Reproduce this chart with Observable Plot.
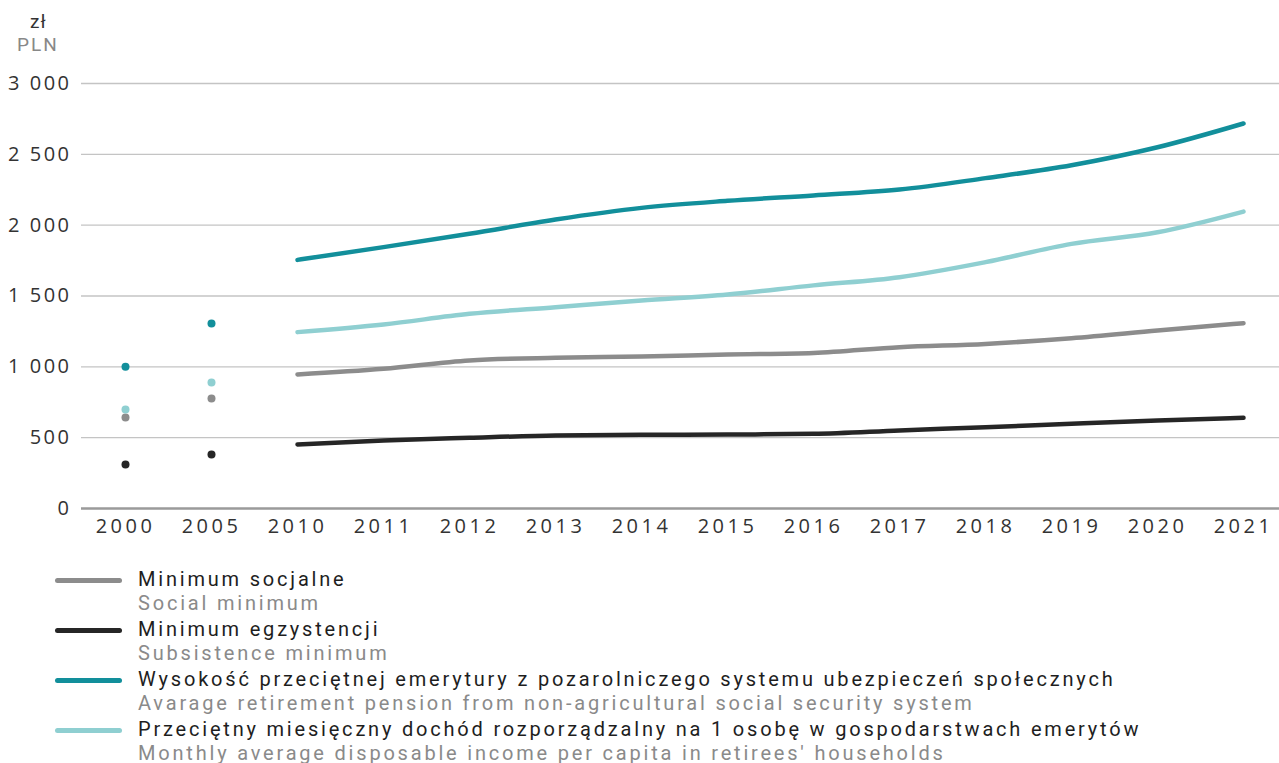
<!DOCTYPE html>
<html>
<head>
<meta charset="utf-8">
<script src="https://cdn.jsdelivr.net/npm/d3@7"></script>
<script src="https://cdn.jsdelivr.net/npm/@observablehq/plot@0.6"></script>
<style>
  html, body { margin: 0; padding: 0; background: #ffffff; }
  body { width: 1279px; height: 763px; overflow: hidden; font-family: "Open Sans", "Noto Sans", sans-serif; }
  #unit { position: relative; height: 60px; font-family: Roboto, "Open Sans", sans-serif; }
  #unit div { line-height: 22px; }
  #unit .pl { position: absolute; left: 30px; top: 11px; font-size: 19px; color: #333; letter-spacing: 1px; }
  #unit .en { position: absolute; left: 17px; top: 34px; font-size: 19px; color: #888; letter-spacing: 2px; }
  #chart svg g[aria-label="x-axis tick label"] text { letter-spacing: 3.5px; font-size: 20px; }
  #chart svg g[aria-label="y-axis tick label"] text { letter-spacing: 2.5px; font-size: 20px; }
  #legend { margin-left: 55px; margin-top: 23px; }
  .item { display: flex; align-items: flex-start; height: 50px; }
  .sw { width: 67px; height: 5px; border-radius: 3px; margin-top: 10px; margin-right: 16px; flex: none; }
  .txt { font-family: Roboto, "Open Sans", sans-serif; font-size: 20px; line-height: 23.5px; letter-spacing: 2.8px; white-space: nowrap; }
  .txt .pl { color: #1e1e1e; }
  .txt .en { color: #8a8a8a; }
</style>
</head>
<body>
<div id="unit"><div class="pl">zł</div><div class="en">PLN</div></div>
<div id="chart"></div>
<div id="legend"></div>
<script>
const years = ["2000","2005","2010","2011","2012","2013","2014","2015","2016","2017","2018","2019","2020","2021"];
const yTicks = [0, 500, 1000, 1500, 2000, 2500, 3000];

const socialMinimum      = [642, 776, 946, 986, 1045, 1064, 1073, 1087, 1098, 1139, 1162, 1202, 1256, 1308];
const subsistenceMinimum = [310, 381, 452, 480, 499, 515, 520, 522, 527, 551, 574, 598, 621, 640];
const averagePension     = [1000, 1306, 1755, 1845, 1939, 2040, 2122, 2172, 2210, 2251, 2332, 2423, 2550, 2718];
const retireeIncome      = [699, 889, 1245, 1299, 1374, 1421, 1468, 1510, 1575, 1633, 1739, 1868, 1950, 2096];

const seriesNames = ["social", "subsistence", "pension", "income"];
const seriesColors = ["#8c8c8c", "#262626", "#128f9b", "#8fcfd1"];
const seriesLabelsPl = [
  "Minimum socjalne",
  "Minimum egzystencji",
  "Wysokość przeciętnej emerytury z pozarolniczego systemu ubezpieczeń społecznych",
  "Przeciętny miesięczny dochód rozporządzalny na 1 osobę w gospodarstwach emerytów"
];
const seriesLabelsEn = [
  "Social minimum",
  "Subsistence minimum",
  "Avarage retirement pension from non-agricultural social security system",
  "Monthly average disposable income per capita in retirees' households"
];
const seriesValues = [socialMinimum, subsistenceMinimum, averagePension, retireeIncome];

const rows = [];
seriesNames.forEach((s, i) => {
  years.forEach((y, j) => rows.push({series: s, year: y, value: seriesValues[i][j], idx: j}));
});
const lineRows = rows.filter(d => d.idx >= 2);
const dotRows = rows.filter(d => d.idx < 2);

const fmt = d => d3.format(",")(d).replace(/,/g, " ");

const chart = Plot.plot({
  width: 1279,
  height: 485,
  marginTop: 23,
  marginBottom: 37,
  marginLeft: 81,
  marginRight: 0,
  style: { fontFamily: "'Open Sans', 'Noto Sans', sans-serif", fontSize: "20px", color: "#333", background: "transparent" },
  x: { type: "point", domain: years, padding: 0, insetLeft: 43, insetRight: 35, label: null },
  y: { domain: [0, 3000], label: null },
  color: { domain: seriesNames, range: seriesColors },
  marks: [
    Plot.ruleY(yTicks.filter(d => d > 0), { stroke: "#c4c4c4", strokeWidth: 1.3 }),
    Plot.ruleY([0], { stroke: "#9a9a9a", strokeWidth: 2.5 }),
    Plot.axisX({ tickSize: 0, tickPadding: 10, fill: "#333" }),
    Plot.axisY({ ticks: yTicks, tickSize: 0, tickPadding: 10, tickFormat: fmt, fill: "#333" }),
    Plot.line(lineRows, { x: "year", y: "value", z: "series", stroke: "series", strokeWidth: 4.5, curve: "monotone-x" }),
    Plot.dot(dotRows, { x: "year", y: "value", fill: "series", r: 4 })
  ]
});
document.getElementById("chart").appendChild(chart);

const legend = document.getElementById("legend");
seriesNames.forEach((s, i) => {
  const item = document.createElement("div");
  item.className = "item";
  item.innerHTML = `<div class="sw" style="background:${seriesColors[i]}"></div><div class="txt"><div class="pl">${seriesLabelsPl[i]}</div><div class="en">${seriesLabelsEn[i]}</div></div>`;
  legend.appendChild(item);
});
</script>
</body>
</html>
